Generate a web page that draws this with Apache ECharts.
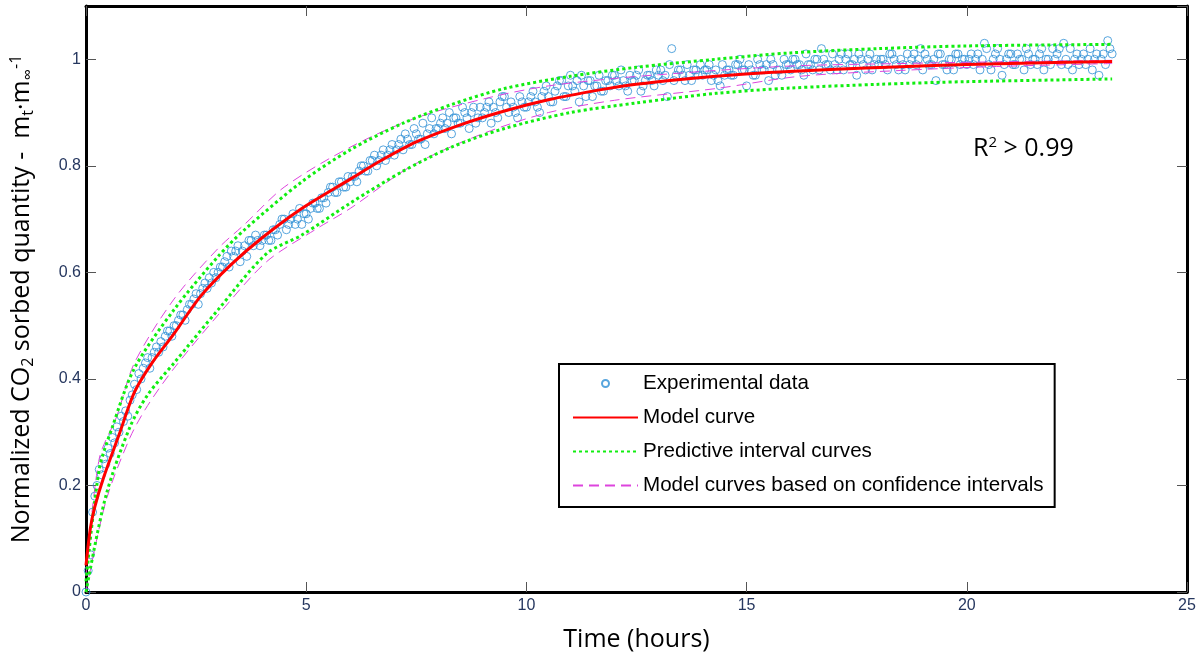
<!DOCTYPE html>
<html>
<head>
<meta charset="utf-8">
<script src="https://cdn.jsdelivr.net/npm/echarts@6/dist/echarts.min.js"></script>
<style>html,body{margin:0;background:#fff}#main{width:1200px;height:657px}</style>
</head>
<body>
<div id="main"></div>
<script>
// experimental data: time (hours) / normalized sorbed quantity
var expTime = [
  0.0,0.1,0.2,0.3,0.4,0.5,0.6,0.7,0.8,0.9,
  1.0,1.1,1.2,1.3,1.4,1.5,1.6,1.7,1.8,1.9,
  2.0,2.1,2.2,2.3,2.4,2.5,2.6,2.7,2.8,2.9,
  3.0,3.1,3.2,3.3,3.4,3.5,3.6,3.7,3.8,3.9,
  4.0,4.1,4.2,4.3,4.4,4.5,4.6,4.7,4.8,4.9,
  5.0,5.1,5.2,5.3,5.4,5.5,5.6,5.7,5.8,5.9,
  6.0,6.1,6.2,6.3,6.4,6.5,6.6,6.7,6.8,6.9,
  7.0,7.1,7.2,7.3,7.4,7.5,7.6,7.7,7.8,7.9,
  8.0,8.1,8.2,8.3,8.4,8.5,8.6,8.7,8.8,8.9,
  9.0,9.1,9.2,9.3,9.4,9.5,9.6,9.7,9.8,9.9,
  10.0,10.1,10.2,10.3,10.4,10.5,10.6,10.7,10.8,10.9,
  11.0,11.1,11.2,11.3,11.4,11.5,11.6,11.7,11.8,11.9,
  12.0,12.1,12.2,12.3,12.4,12.5,12.6,12.7,12.8,12.9,
  13.0,13.1,13.2,13.3,13.4,13.5,13.6,13.7,13.8,13.9,
  14.0,14.1,14.2,14.3,14.4,14.5,14.6,14.7,14.8,14.9,
  15.0,15.1,15.2,15.3,15.4,15.5,15.6,15.7,15.8,15.9,
  16.0,16.1,16.2,16.3,16.4,16.5,16.6,16.7,16.8,16.9,
  17.0,17.1,17.2,17.3,17.4,17.5,17.6,17.7,17.8,17.9,
  18.0,18.1,18.2,18.3,18.4,18.5,18.6,18.7,18.8,18.9,
  19.0,19.1,19.2,19.3,19.4,19.5,19.6,19.7,19.8,19.9,
  20.0,20.1,20.2,20.3,20.4,20.5,20.6,20.7,20.8,20.9,
  21.0,21.1,21.2,21.3,21.4,21.5,21.6,21.7,21.8,21.9,
  22.0,22.1,22.2,22.3,22.4,22.5,22.6,22.7,22.8,22.9,
  23.0,23.1,23.2,23.3
];
var expValue = [
  0.00,0.07,0.18,0.23,0.25,0.27,0.29,0.31,0.33,0.34,
  0.36,0.39,0.41,0.42,0.44,0.44,0.46,0.47,0.48,0.49,
  0.50,0.51,0.52,0.53,0.54,0.56,0.56,0.58,0.59,0.60,
  0.60,0.61,0.63,0.64,0.64,0.62,0.65,0.66,0.65,0.66,
  0.66,0.67,0.66,0.68,0.69,0.70,0.69,0.71,0.70,0.69,
  0.71,0.72,0.73,0.72,0.74,0.75,0.76,0.75,0.77,0.76,
  0.77,0.78,0.79,0.80,0.79,0.81,0.80,0.82,0.81,0.83,
  0.82,0.84,0.83,0.85,0.84,0.86,0.85,0.84,0.87,0.86,
  0.87,0.89,0.88,0.86,0.89,0.88,0.90,0.87,0.91,0.89,
  0.89,0.91,0.88,0.90,0.92,0.93,0.90,0.91,0.89,0.92,
  0.91,0.93,0.92,0.90,0.94,0.93,0.92,0.95,0.96,0.93,
  0.97,0.94,0.92,0.95,0.96,0.93,0.95,0.94,0.96,0.95,
  0.97,0.95,0.96,0.94,0.96,0.97,0.94,0.96,0.97,0.95,
  0.97,0.96,0.93,1.02,0.97,0.98,0.96,0.97,0.98,0.97,
  0.97,0.98,0.96,0.98,0.95,0.97,0.98,0.97,0.99,0.98,
  0.95,0.98,0.97,0.99,0.98,0.96,0.99,0.98,0.97,0.99,
  0.98,1.00,0.99,0.97,0.99,0.98,1.00,1.02,0.99,0.98,
  0.99,1.00,0.98,1.01,0.99,0.97,1.00,0.98,1.01,0.99,
  0.99,1.00,0.98,1.01,0.99,1.00,0.98,0.99,1.01,1.00,
  0.98,1.00,0.99,0.96,1.01,0.99,1.00,0.98,1.01,1.00,
  0.99,1.01,1.00,0.98,1.03,0.99,1.00,1.02,0.97,1.00,
  1.01,0.99,1.00,0.98,1.01,1.00,0.99,1.02,1.00,0.99,
  1.00,1.02,1.03,0.99,0.98,1.01,1.00,0.99,1.02,1.00,
  0.97,1.01,1.035,1.01
];
// second sampling, between the first ones
var expTimeB = [
  0.05,0.15,0.25,0.35,0.45,0.55,0.65,0.75,0.85,0.95,
  1.05,1.15,1.25,1.35,1.45,1.55,1.65,1.75,1.85,1.95,
  2.05,2.15,2.25,2.35,2.45,2.55,2.65,2.75,2.85,2.95,
  3.05,3.15,3.25,3.35,3.45,3.55,3.65,3.75,3.85,3.95,
  4.05,4.15,4.25,4.35,4.45,4.55,4.65,4.75,4.85,4.95,
  5.05,5.15,5.25,5.35,5.45,5.55,5.65,5.75,5.85,5.95,
  6.05,6.15,6.25,6.35,6.45,6.55,6.65,6.75,6.85,6.95,
  7.05,7.15,7.25,7.35,7.45,7.55,7.65,7.75,7.85,7.95,
  8.05,8.15,8.25,8.35,8.45,8.55,8.65,8.75,8.85,8.95,
  9.05,9.15,9.25,9.35,9.45,9.55,9.65,9.75,9.85,9.95,
  10.05,10.15,10.25,10.35,10.45,10.55,10.65,10.75,10.85,10.95,
  11.05,11.15,11.25,11.35,11.45,11.55,11.65,11.75,11.85,11.95,
  12.05,12.15,12.25,12.35,12.45,12.55,12.65,12.75,12.85,12.95,
  13.05,13.15,13.25,13.35,13.45,13.55,13.65,13.75,13.85,13.95,
  14.05,14.15,14.25,14.35,14.45,14.55,14.65,14.75,14.85,14.95,
  15.05,15.15,15.25,15.35,15.45,15.55,15.65,15.75,15.85,15.95,
  16.05,16.15,16.25,16.35,16.45,16.55,16.65,16.75,16.85,16.95,
  17.05,17.15,17.25,17.35,17.45,17.55,17.65,17.75,17.85,17.95,
  18.05,18.15,18.25,18.35,18.45,18.55,18.65,18.75,18.85,18.95,
  19.05,19.15,19.25,19.35,19.45,19.55,19.65,19.75,19.85,19.95,
  20.05,20.15,20.25,20.35,20.45,20.55,20.65,20.75,20.85,20.95,
  21.05,21.15,21.25,21.35,21.45,21.55,21.65,21.75,21.85,21.95,
  22.05,22.15,22.25,22.35,22.45,22.55,22.65,22.75,22.85,22.95,
  23.05,23.15,23.25
];
var expValueB = [
  0.04,0.15,0.20,0.22,0.24,0.26,0.28,0.30,0.32,0.33,
  0.37,0.38,0.40,0.43,0.42,0.45,0.45,0.46,0.49,0.48,
  0.50,0.52,0.51,0.54,0.55,0.54,0.57,0.57,0.58,0.59,
  0.61,0.62,0.61,0.63,0.65,0.64,0.63,0.66,0.67,0.65,
  0.67,0.66,0.68,0.67,0.70,0.68,0.70,0.69,0.72,0.71,
  0.70,0.73,0.72,0.74,0.73,0.76,0.75,0.77,0.76,0.78,
  0.78,0.77,0.80,0.79,0.81,0.82,0.81,0.83,0.82,0.84,
  0.83,0.85,0.86,0.84,0.87,0.85,0.88,0.86,0.89,0.87,
  0.88,0.87,0.90,0.89,0.88,0.91,0.89,0.90,0.88,0.91,
  0.90,0.92,0.91,0.89,0.93,0.91,0.92,0.90,0.93,0.91,
  0.92,0.94,0.91,0.93,0.95,0.92,0.94,0.96,0.93,0.95,
  0.95,0.96,0.97,0.93,0.96,0.95,0.97,0.94,0.96,0.97,
  0.96,0.98,0.95,0.97,0.96,0.98,0.95,0.97,0.96,0.98,
  0.98,0.97,0.99,0.96,0.98,0.97,0.99,0.96,0.98,0.99,
  0.98,0.99,0.97,0.96,0.99,0.98,0.97,0.99,1.00,0.98,
  0.99,0.97,1.00,0.98,0.99,1.00,0.97,0.98,1.00,0.99,
  1.00,0.99,0.98,1.01,0.99,1.00,0.98,1.00,0.99,1.01,
  0.98,1.01,1.00,0.99,1.00,1.01,0.99,1.00,0.98,1.00,
  1.00,0.99,1.01,1.00,0.98,0.99,1.01,1.00,0.99,1.02,
  1.01,0.99,1.00,1.01,0.99,0.98,1.00,1.01,0.99,1.00,
  1.00,0.99,1.01,1.00,1.02,0.98,1.01,1.00,0.99,1.01,
  0.99,1.01,1.00,1.02,0.99,1.00,1.01,0.98,1.00,1.02,
  1.01,0.99,1.00,1.02,1.00,0.99,1.01,1.00,0.98,1.01,
  1.00,0.99,1.02
];

// fitted model curve
var modelTime  = [0, 0.1, 0.2, 0.4, 0.75, 1.1, 1.5, 2.0, 2.6, 3.3, 4.0, 4.9, 6.0, 6.7, 7.5, 8.5, 9.5, 10.5, 11.7, 12.4, 13.5, 14.3, 15.5, 16.9, 18.5, 20.0, 21.5, 23.3];
var modelValue = [0.05, 0.12, 0.16, 0.215, 0.295, 0.375, 0.43, 0.485, 0.555, 0.615, 0.665, 0.72, 0.775, 0.81, 0.845, 0.877, 0.903, 0.924, 0.943, 0.952, 0.962, 0.968, 0.975, 0.981, 0.986, 0.99, 0.993, 0.996];

// predictive interval (upper / lower)
var predUpTime  = [0, 0.3, 0.6, 1.1, 2.0, 3.0, 3.6, 4.9, 6.0, 7.2, 8.3, 9.5, 11.0, 12.5, 14.3, 16.0, 18.0, 20.0, 23.3];
var predUpValue = [0.02, 0.23, 0.31, 0.42, 0.53, 0.63, 0.68, 0.77, 0.83, 0.88, 0.915, 0.945, 0.968, 0.985, 1.0, 1.012, 1.02, 1.025, 1.028];
var predLowTime  = [0, 0.45, 1.0, 1.4, 2.0, 3.0, 4.1, 4.9, 6.0, 7.2, 8.3, 9.5, 11.0, 12.5, 14.3, 16.0, 18.0, 20.0, 23.3];
var predLowValue = [0.0, 0.18, 0.31, 0.37, 0.43, 0.53, 0.635, 0.67, 0.73, 0.79, 0.835, 0.87, 0.9, 0.918, 0.936, 0.946, 0.953, 0.958, 0.963];

// model curves from confidence bounds of the parameters
var confUpTime  = [0, 0.3, 0.7, 1.1, 2.0, 3.0, 3.6, 4.5, 6.0, 7.5, 9.2, 10.5, 12.0, 13.0, 14.5, 16.2, 18.5, 20.5, 23.3];
var confUpValue = [0.03, 0.25, 0.33, 0.43, 0.55, 0.645, 0.69, 0.76, 0.835, 0.89, 0.929, 0.95, 0.964, 0.971, 0.98, 0.988, 0.992, 0.995, 0.998];
var confLowTime  = [0, 0.45, 1.0, 1.4, 2.0, 3.0, 4.1, 5.2, 6.0, 7.4, 9.0, 10.5, 12.0, 14.3, 16.2, 18.5, 20.5, 23.3];
var confLowValue = [0.0, 0.17, 0.29, 0.35, 0.42, 0.52, 0.62, 0.68, 0.72, 0.80, 0.86, 0.9, 0.923, 0.945, 0.968, 0.979, 0.986, 0.992];

var xTicks = { min: 0, max: 25, step: 5 };
var yTicks = { min: 0, max: 1.1, step: 0.2 };

function pairs(xs, ys) {
  return xs.map(function (x, i) { return [x, ys[i]]; });
}

var chart = echarts.init(document.getElementById('main'));

var tickStyle = { show: true, inside: true, length: 10, lineStyle: { color: '#555', width: 1 } };
var lineAxis = { show: true, onZero: false, lineStyle: { color: '#000', width: 3 } };
var labelStyle = { color: '#26375f', fontSize: 16, fontFamily: 'Liberation Sans' };
var subSup = {
  sub: { fontFamily: 'Open Sans', fontSize: 16, color: '#000', padding: [12, 0, 0, 0] },
  sup: { fontFamily: 'Open Sans', fontSize: 16, color: '#000', padding: [0, 0, 12, 0] }
};
var nameFont = { fontFamily: 'Open Sans', fontSize: 25, color: '#000', rich: subSup };
var hideDot = { opacity: 0 };

chart.setOption({
  animation: false,
  grid: { left: 85, right: 13, top: 6, bottom: 63 },
  legend: {
    orient: 'vertical',
    left: 559,
    top: 364,
    itemWidth: 65,
    itemHeight: 7,
    itemGap: 13,
    padding: [9, 11, 11, 13],
    borderColor: '#000',
    borderWidth: 2,
    borderRadius: 0,
    backgroundColor: '#fff',
    textStyle: { fontFamily: 'Liberation Sans', fontSize: 20.6, color: '#000' },
    data: [
      { name: 'Experimental data' },
      { name: 'Model curve', itemStyle: hideDot },
      { name: 'Predictive interval curves', itemStyle: hideDot },
      { name: 'Model curves based on confidence intervals', itemStyle: hideDot }
    ]
  },
  xAxis: [{
    type: 'value', position: 'bottom',
    min: xTicks.min, max: xTicks.max, interval: xTicks.step,
    axisLine: lineAxis, axisTick: tickStyle,
    axisLabel: Object.assign({ margin: 6 }, labelStyle),
    splitLine: { show: false },
    name: 'Time (hours)', nameLocation: 'middle', nameGap: 35,
    nameTextStyle: nameFont
  }, {
    type: 'value', position: 'top',
    min: xTicks.min, max: xTicks.max, interval: xTicks.step,
    axisLine: lineAxis, axisTick: tickStyle,
    axisLabel: { show: false }, splitLine: { show: false }
  }],
  yAxis: [{
    type: 'value', position: 'left',
    min: yTicks.min, max: yTicks.max, interval: yTicks.step,
    axisLine: lineAxis, axisTick: tickStyle,
    axisLabel: Object.assign({ margin: 5, showMaxLabel: false }, labelStyle),
    splitLine: { show: false },
    name: 'Normalized CO{sub|2} sorbed quantity -  m{sub|t}\u00B7m{sub|\u221E}{sup|-1}',
    nameLocation: 'middle', nameGap: 50,
    nameTextStyle: nameFont
  }, {
    type: 'value', position: 'right',
    min: yTicks.min, max: yTicks.max, interval: yTicks.step,
    axisLine: lineAxis, axisTick: tickStyle,
    axisLabel: { show: false }, splitLine: { show: false }
  }],
  graphic: [{
    type: 'text', left: 973, top: 135,
    style: {
      text: 'R{sup|2} > 0.99', fontFamily: 'Open Sans', fontSize: 25, fill: '#000',
      rich: { sup: { fontFamily: 'Open Sans', fontSize: 15, fill: '#000', padding: [0, 0, 12, 0] } }
    }
  }],
  series: [{
    name: 'Experimental data',
    type: 'scatter',
    symbol: 'circle',
    symbolSize: 8,
    itemStyle: { color: 'rgba(255,255,255,0)', borderColor: '#2d8fd5', borderWidth: 1 },
    data: pairs(expTime, expValue).concat(pairs(expTimeB, expValueB)),
    z: 2
  }, {
    name: 'Model curves based on confidence intervals',
    type: 'line', symbol: 'none', smooth: 0.3,
    lineStyle: { color: '#dd44dd', width: 1, type: [10, 6] },
    data: pairs(confUpTime, confUpValue), z: 3
  }, {
    name: 'Model curves based on confidence intervals',
    type: 'line', symbol: 'none', smooth: 0.3,
    lineStyle: { color: '#dd44dd', width: 1, type: [10, 6] },
    data: pairs(confLowTime, confLowValue), z: 3
  }, {
    name: 'Predictive interval curves',
    type: 'line', symbol: 'none', smooth: 0.3,
    lineStyle: { color: '#11ee11', width: 3, type: [3, 3] },
    data: pairs(predUpTime, predUpValue), z: 4
  }, {
    name: 'Predictive interval curves',
    type: 'line', symbol: 'none', smooth: 0.3,
    lineStyle: { color: '#11ee11', width: 3, type: [3, 3] },
    data: pairs(predLowTime, predLowValue), z: 4
  }, {
    name: 'Model curve',
    type: 'line', symbol: 'none', smooth: 0.3,
    lineStyle: { color: '#ff0000', width: 3 },
    data: pairs(modelTime, modelValue), z: 5
  }]
});
</script>
</body>
</html>
